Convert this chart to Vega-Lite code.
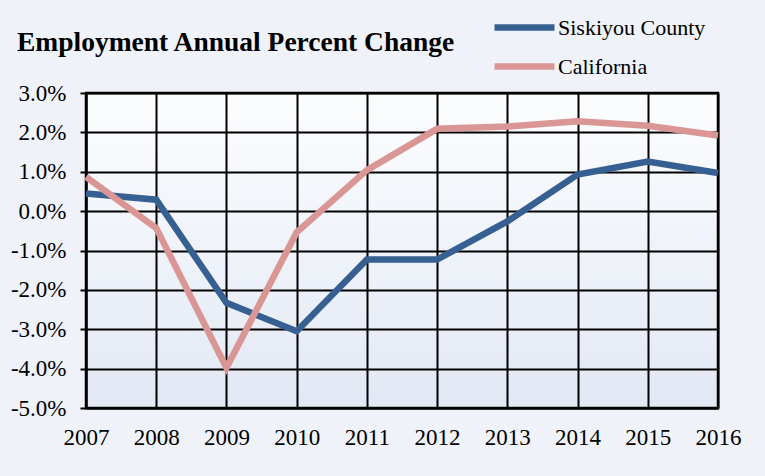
{
  "$schema": "https://vega.github.io/schema/vega-lite/v6.json",
  "autosize": "none",
  "width": 632,
  "height": 315,
  "padding": {"left": 86, "top": 93, "right": 47, "bottom": 68},
  "background": "#eff2f9",
  "title": {
    "text": "Employment Annual Percent Change",
    "anchor": "start",
    "frame": "group",
    "dx": -69,
    "offset": -63,
    "baseline": "alphabetic",
    "font": "Liberation Serif",
    "fontSize": 27.5,
    "fontWeight": "bold",
    "color": "#000000"
  },
  "data": {
    "values": [
      {"year": 2007, "series": "Siskiyou County", "pct": 0.45},
      {"year": 2008, "series": "Siskiyou County", "pct": 0.29},
      {"year": 2009, "series": "Siskiyou County", "pct": -2.33},
      {"year": 2010, "series": "Siskiyou County", "pct": -3.05},
      {"year": 2011, "series": "Siskiyou County", "pct": -1.23},
      {"year": 2012, "series": "Siskiyou County", "pct": -1.23},
      {"year": 2013, "series": "Siskiyou County", "pct": -0.26},
      {"year": 2014, "series": "Siskiyou County", "pct": 0.93},
      {"year": 2015, "series": "Siskiyou County", "pct": 1.26},
      {"year": 2016, "series": "Siskiyou County", "pct": 0.97},
      {"year": 2007, "series": "California", "pct": 0.87},
      {"year": 2008, "series": "California", "pct": -0.43},
      {"year": 2009, "series": "California", "pct": -3.98},
      {"year": 2010, "series": "California", "pct": -0.54},
      {"year": 2011, "series": "California", "pct": 1.04},
      {"year": 2012, "series": "California", "pct": 2.09},
      {"year": 2013, "series": "California", "pct": 2.15},
      {"year": 2014, "series": "California", "pct": 2.28},
      {"year": 2015, "series": "California", "pct": 2.17},
      {"year": 2016, "series": "California", "pct": 1.92}
    ]
  },
  "mark": {"type": "line", "strokeWidth": 6.5, "strokeCap": "butt", "strokeJoin": "miter"},
  "encoding": {
    "x": {
      "field": "year",
      "type": "quantitative",
      "scale": {"domain": [2007, 2016], "nice": false, "zero": false},
      "axis": {
        "title": null,
        "values": [2007, 2008, 2009, 2010, 2011, 2012, 2013, 2014, 2015, 2016],
        "format": "d",
        "ticks": false,
        "labelFlush": false,
        "labelOverlap": false,
        "labelPadding": 18,
        "grid": true
      }
    },
    "y": {
      "field": "pct",
      "type": "quantitative",
      "scale": {"domain": [-5, 3], "nice": false, "zero": false},
      "axis": {
        "title": null,
        "values": [-5, -4, -3, -2, -1, 0, 1, 2, 3],
        "labelExpr": "(datum.value < 0 ? '-' : '') + format(abs(datum.value), '.1f') + '%'",
        "ticks": true,
        "tickSize": 6,
        "labelPadding": 14,
        "labelOverlap": false,
        "labelFlush": false,
        "grid": true
      }
    },
    "color": {
      "field": "series",
      "type": "nominal",
      "scale": {"domain": ["Siskiyou County", "California"], "range": ["#376092", "#d99694"]},
      "legend": {
        "title": null,
        "orient": "none",
        "legendX": 405,
        "legendY": -78,
        "symbolType": "stroke",
        "symbolSize": 3600,
        "symbolStrokeWidth": 6.5,
        "labelFont": "Liberation Serif",
        "labelFontSize": 22,
        "labelColor": "#000000",
        "labelOffset": 0,
        "clipHeight": 25,
        "rowPadding": 14,
        "padding": 0,
        "encoding": {"symbols": {"update": {"strokeCap": {"value": "round"}}}}
      }
    }
  },
  "config": {
    "view": {
      "stroke": "#000000",
      "strokeWidth": 2.5,
      "fill": {
        "gradient": "linear",
        "x1": 0, "y1": 0, "x2": 0, "y2": 1,
        "stops": [
          {"offset": 0, "color": "#fcfdfe"},
          {"offset": 1, "color": "#e2e8f4"}
        ]
      }
    },
    "axis": {
      "domain": true,
      "domainColor": "#000000",
      "domainWidth": 2,
      "gridColor": "#000000",
      "gridWidth": 2,
      "gridOpacity": 1,
      "tickColor": "#000000",
      "tickWidth": 2,
      "labelFont": "Liberation Serif",
      "labelFontSize": 23,
      "labelColor": "#000000"
    }
  }
}
